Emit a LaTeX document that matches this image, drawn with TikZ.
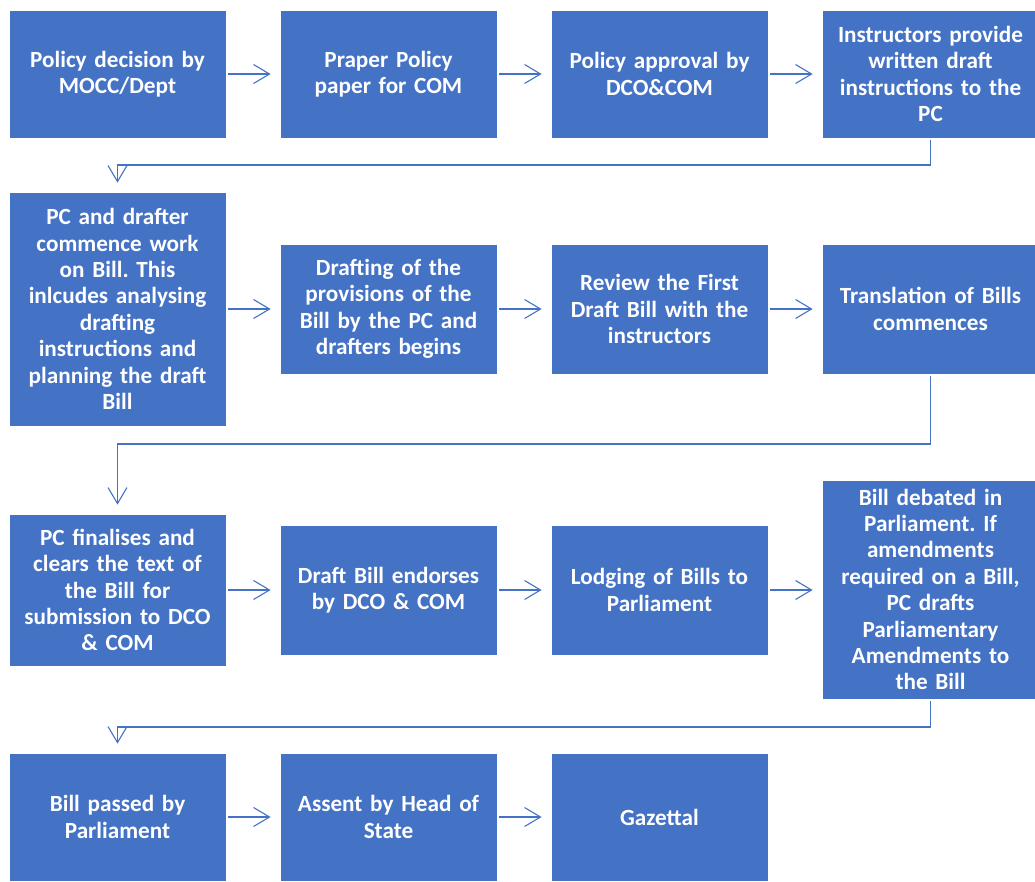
\documentclass[tikz,border=0pt]{standalone}
\usepackage{fontspec}
\setmainfont{Carlito}
\usetikzlibrary{arrows.meta}
\definecolor{obox}{HTML}{4472C4}
\frenchspacing
\tikzset{
  box/.style={fill=obox, draw=white, line width=0.8pt, text=white, align=center,
    font=\bfseries\fontsize{23.2}{26.4}\selectfont\frenchspacing, inner sep=0pt,
    minimum width=217pt, text width=210pt},
  arr/.style={draw=obox, line width=1.1pt, -{Straight Barb[length=16pt,width=19pt,line width=1.1pt]}},
  harr/.style={arr, shorten <=2pt, shorten >=9pt},
  varr/.style={arr, shorten <=2pt, shorten >=9pt},
}
\begin{document}
\begin{tikzpicture}[x=1pt,y=-1pt]
\useasboundingbox (0,0) rectangle (1035,881);
% row 1
\node[box, minimum height=128pt] (b1) at (117.5,74) {Policy decision by\\MOCC/Dept};
\node[box, minimum height=128pt] (b2) at (388.5,74) {Praper Policy\\paper for COM};
\node[box, minimum height=128pt] (b3) at (659.5,74) {Policy approval by\\DCO\&COM};
\node[box, minimum height=128pt] (b4) at (930.5,74) {Instructors provide\\written draft\\instructions to the\\PC};
% row 2
\node[box, minimum height=234pt] (b5) at (117.5,309) {PC and drafter\\commence work\\on Bill. This\\inlcudes analysing\\drafting\\instructions and\\planning the draft\\Bill};
\node[box, minimum height=130pt] (b6) at (388.5,309) {Drafting of the\\provisions of the\\Bill by the PC and\\drafters begins};
\node[box, minimum height=130pt] (b7) at (659.5,309) {Review the First\\Draft Bill with the\\instructors};
\node[box, minimum height=130pt] (b8) at (930.5,309) {Translation of Bills\\commences};
% row 3
\node[box, minimum height=152pt] (b9) at (117.5,590) {PC finalises and\\clears the text of\\the Bill for\\submission to DCO\\\& COM};
\node[box, minimum height=130pt] (b10) at (388.5,590) {Draft Bill endorses\\by DCO \& COM};
\node[box, minimum height=130pt] (b11) at (659.5,590) {Lodging of Bills to\\Parliament};
\node[box, minimum height=219pt] (b12) at (930.5,589.5) {Bill debated in\\Parliament. If\\amendments\\required on a Bill,\\PC drafts\\Parliamentary\\Amendments to\\the Bill};
% row 4
\node[box, minimum height=128pt] (b13) at (117.5,817) {Bill passed by\\Parliament};
\node[box, minimum height=128pt] (b14) at (388.5,817) {Assent by Head of\\State};
\node[box, minimum height=128pt] (b15) at (659.5,817) {Gazettal};
% bend coordinates
\coordinate (k1) at (117.5,165);
\coordinate (k2) at (117.5,444);
\coordinate (k3) at (117.5,727);
% horizontal arrows
\draw[harr] (b1) -- (b2);
\draw[harr] (b2) -- (b3);
\draw[harr] (b3) -- (b4);
\draw[harr] (b5.east |- b6.east) -- (b6);
\draw[harr] (b6) -- (b7);
\draw[harr] (b7) -- (b8);
\draw[harr] (b9) -- (b10);
\draw[harr] (b10) -- (b11);
\draw[harr] (b11) -- (b12.west |- b11.east);
\draw[harr] (b13) -- (b14);
\draw[harr] (b14) -- (b15);
% row connectors
\draw[varr] (b4.south) |- (k1) -- (b5.north);
\draw[varr] (b8.south) |- (k2) -- (b9.north);
\draw[varr] (b12.south) |- (k3) -- (b13.north);
\end{tikzpicture}
\end{document}
